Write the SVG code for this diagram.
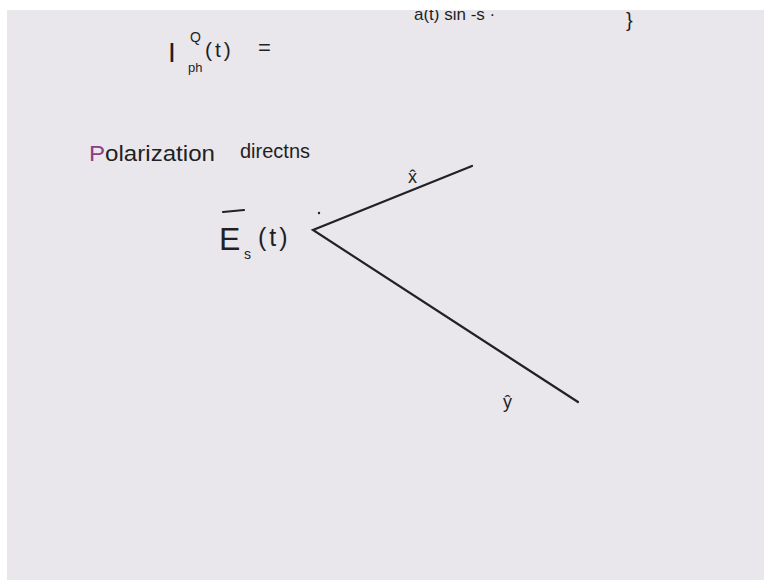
<svg xmlns="http://www.w3.org/2000/svg" width="764" height="580" viewBox="0 0 764 580">
<style>
.ink{fill:#1f1f24;font-family:"Liberation Sans","DejaVu Sans",sans-serif;font-weight:normal}
.ln{stroke:#222226;stroke-width:2.2;stroke-linecap:round;fill:none}
</style>
<defs>
<clipPath id="clipTop"><rect x="7" y="10" width="757" height="570"/></clipPath>
</defs>
<rect x="0" y="0" width="764" height="580" fill="#ffffff"/>
<rect x="7" y="10" width="757" height="570" fill="#e9e7ec"/>
<g id="top-formula" clip-path="url(#clipTop)">
<text class="ink" x="414" y="20" font-size="17">a(t) sin  -s ·</text>
<text class="ink" x="626" y="27" font-size="20">}</text>
</g>
<g id="iph">
<text class="ink" x="168" y="62" font-size="28" font-family="Liberation Serif, serif">I</text>
<text class="ink" x="190" y="42" font-size="14">Q</text>
<text class="ink" x="188" y="72" font-size="13">ph</text>
<text class="ink" x="205" y="57" font-size="21" letter-spacing="3">(t)</text>
<text class="ink" x="258" y="55" font-size="22">=</text>
</g>
<g id="heading">
<text class="ink" x="89" y="161" font-size="22" textLength="126" lengthAdjust="spacingAndGlyphs"><tspan fill="#8a3f86">P</tspan>olarization</text>
<text class="ink" x="240" y="158" font-size="20" textLength="70" lengthAdjust="spacingAndGlyphs">directns</text>
</g>
<g id="es">
<line class="ln" x1="223" y1="212" x2="244" y2="210" stroke-width="1.8"/>
<text class="ink" x="219" y="250" font-size="32">E</text>
<text class="ink" x="244" y="259" font-size="14">s</text>
<text class="ink" x="258" y="246" font-size="25" letter-spacing="3">(t)</text>
<circle cx="319" cy="213" r="1.2" fill="#222226"/>
</g>
<g id="axes">
<polyline class="ln" points="472,166 313,230 578,402"/>
</g>
<g id="labels">
<text class="ink" x="408" y="183" font-size="18">x̂</text>
<text class="ink" x="503" y="408" font-size="18">ŷ</text>
</g>
</svg>
